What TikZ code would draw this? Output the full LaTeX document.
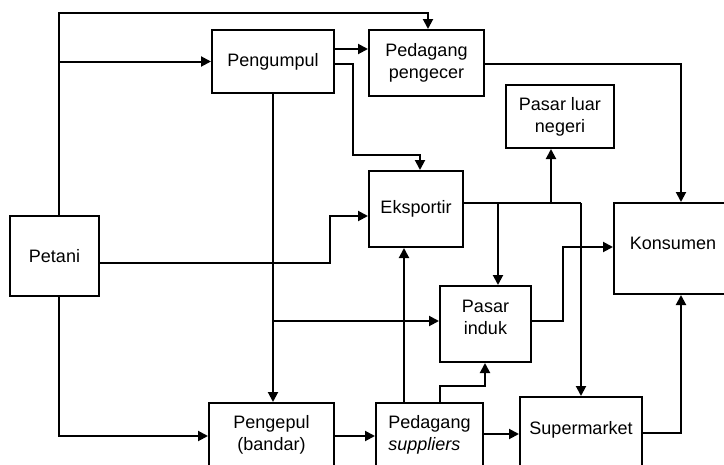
\documentclass[tikz,border=0pt]{standalone}
\usepackage{fontspec}
\setmainfont{Liberation Sans}
\usetikzlibrary{arrows.meta}
\begin{document}
\begin{tikzpicture}[x=1pt,y=-1pt, line width=2pt,
  box/.style={draw, rectangle, inner sep=0pt, align=center, font=\fontsize{18}{22}\selectfont},
  arr/.style={-{Triangle[length=10pt,width=10pt]}}]
\useasboundingbox (0,0) rectangle (724,464);
\clip (0,0) rectangle (724,464);
% nodes
\node[box, minimum width=89pt, minimum height=80pt] (petani) at (54.5,256) {Petani};
\node[box, minimum width=122pt, minimum height=63pt] (pengumpul) at (273,61.5) {Pengumpul};
\node[box, minimum width=115pt, minimum height=66pt] (pengecer) at (426.5,63) {Pedagang\\pengecer};
\node[box, minimum width=108pt, minimum height=63pt] (pasarluar) at (560,116.5) {Pasar luar\\negeri};
\node[box, minimum width=94pt, minimum height=76pt] (eksportir) at (416,209) {Eksportir};
\node[box, minimum width=118pt, minimum height=91pt] (konsumen) at (673,248.5) {Konsumen\\[-12pt]\mbox{}};
\node[box, minimum width=91pt, minimum height=76pt] (pasarinduk) at (485.5,324) {Pasar\\induk\\[-8pt]\mbox{}};
\node[box, minimum width=125pt, minimum height=63pt] (pengepul) at (271.5,434.5) {Pengepul\\(bandar)};
\node[box, minimum width=107pt, minimum height=63pt, align=left] (suppliers) at (429.5,434.5) {Pedagang\\\textit{suppliers}};
\node[box, minimum width=122pt, minimum height=69pt] (supermarket) at (581,431.5) {Supermarket\\[-14pt]\mbox{}};
% connectors
\draw[arr] (petani.north -| 59,0) -- (59,13) -| (pengecer.north -| 428,0);
\draw[arr] (pengumpul.west -| 59,0) -- (pengumpul.west);
\draw[arr] (pengumpul.east |- 0,49) -- (pengecer.west |- 0,49);
\draw[arr] (pengumpul.east |- 0,64) -- (353,64) -- (353,155) -| (eksportir.north -| 420,0);
\draw[arr] (pengumpul.south) -- (pengumpul.south |- pengepul.north);
\draw[arr] (pengumpul.south |- 0,321) -- (pasarinduk.west |- 0,321);
\draw[arr] (petani.east |- 0,263) -- (330,263) -- (330,216) -- (eksportir.west |- 0,216);
\draw[arr] (petani.south -| 59,0) |- (pengepul.west |- 0,436);
\draw[arr] (pengecer.east |- 0,64) -| (konsumen.north -| 681,0);
\draw (eksportir.east |- 0,203) -- (581,203);
\draw[arr] (581,203) -- (supermarket.north -| 581,0);
\draw[arr] (551,203) -- (pasarluar.south -| 551,0);
\draw[arr] (498,203) -- (pasarinduk.north -| 498,0);
\draw[arr] (pasarinduk.east |- 0,321) -- (563,321) |- (konsumen.west |- 0,247);
\draw[arr] (pengepul.east |- 0,436) -- (suppliers.west |- 0,436);
\draw[arr] (suppliers.north -| 404,0) -- (eksportir.south -| 404,0);
\draw[arr] (suppliers.north -| 440,0) -- (440,386) -| (pasarinduk.south -| 485,0);
\draw[arr] (suppliers.east |- 0,434) -- (supermarket.west |- 0,434);
\draw[arr] (supermarket.east |- 0,433) -| (konsumen.south -| 681,0);
\end{tikzpicture}
\end{document}
